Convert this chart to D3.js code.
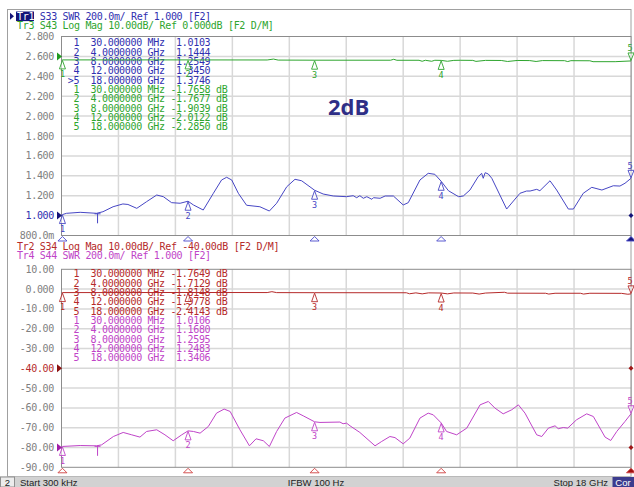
<!DOCTYPE html>
<html lang="en">
<head>
<meta charset="utf-8">
<title>VNA S33 / S43 / S34 / S44</title>
<script src="https://cdnjs.cloudflare.com/ajax/libs/d3/7.8.5/d3.min.js"></script>
<style>
  body { margin: 0; background: #fff; }
  svg text { font-family: "DejaVu Sans Mono", "Liberation Mono", monospace; font-size: 10px; letter-spacing: -0.32px; white-space: pre; }
</style>
</head>
<body>
<script>
/* sweep, GHz */
var fStart = 0.0003, fStop = 18;

/* marker frequencies and readouts */
var markerFreq = [0.03, 4, 8, 12, 18];
var markerFreqText = ["30.000000 MHz", "4.0000000 GHz", "8.0000000 GHz", "12.000000 GHz", "18.000000 GHz"];
var s33Marker = [1.0103, 1.1444, 1.2549, 1.3450, 1.3746];
var s43Marker = [-1.7658, -1.7677, -1.9039, -2.0122, -2.2850];
var s34Marker = [-1.7649, -1.7129, -1.8148, -1.9778, -2.4143];
var s44Marker = [1.0106, 1.1680, 1.2595, 1.2483, 1.3406];

/* y tick labels */
var swrTicks = ["2.800", "2.600", "2.400", "2.200", "2.000", "1.800", "1.600", "1.400", "1.200", "1.000", "800.0m"];
var dbTicks = ["10.00", "0.000", "-10.00", "-20.00", "-30.00", "-40.00", "-50.00", "-60.00", "-70.00", "-80.00", "-90.00"];

/* traces: [GHz, value] */
var s33 = [[0.0003,1.010],[0.03,1.0103],[0.16,1.023],[0.59,1.033],[1.11,1.023],[1.31,1.039],[1.63,1.089],[1.94,1.117],[2.10,1.112],[2.38,1.073],[2.69,1.140],[3.01,1.207],[3.22,1.190],[3.48,1.130],[3.75,1.124],[4.00,1.1444],[4.17,1.107],[4.48,1.056],[4.80,1.224],[5.06,1.358],[5.22,1.385],[5.38,1.358],[5.59,1.224],[5.85,1.104],[6.27,1.089],[6.57,1.046],[6.80,1.124],[7.12,1.290],[7.38,1.365],[7.59,1.350],[8.00,1.2549],[8.27,1.217],[8.59,1.197],[9.01,1.190],[9.22,1.200],[9.33,1.180],[9.43,1.200],[9.54,1.174],[9.65,1.190],[9.81,1.164],[9.86,1.180],[10.07,1.174],[10.23,1.197],[10.49,1.197],[10.80,1.107],[10.96,1.130],[11.33,1.358],[11.59,1.425],[11.80,1.415],[12.00,1.3450],[12.23,1.250],[12.55,1.190],[12.70,1.197],[12.91,1.257],[13.17,1.391],[13.28,1.425],[13.33,1.375],[13.39,1.431],[13.49,1.418],[13.60,1.375],[14.07,1.066],[14.49,1.224],[14.70,1.247],[14.81,1.247],[15.02,1.264],[15.12,1.250],[15.44,1.350],[15.65,1.257],[16.02,1.066],[16.18,1.066],[16.49,1.224],[16.76,1.284],[17.08,1.257],[17.44,1.300],[17.65,1.297],[17.81,1.325],[18.00,1.3746]];

var s43 = [[0.0003,-1.76],[0.03,-1.7658],[2.0,-1.76],[4.0,-1.7677],[6.5,-1.80],[6.7,-1.35],[6.85,-1.85],[8.0,-1.9039],[10.4,-1.92],[10.5,-1.45],[10.6,-1.95],[11.3,-1.95],[11.4,-2.45],[11.5,-1.95],[11.7,-2.45],[11.8,-1.95],[12.0,-2.0122],[12.2,-2.45],[12.4,-2.0],[12.6,-1.95],[13.0,-2.0],[13.1,-2.5],[13.4,-2.0],[13.9,-2.05],[14.1,-2.55],[14.4,-2.05],[14.8,-2.1],[15.0,-2.55],[15.2,-2.1],[15.9,-2.15],[16.0,-2.6],[16.1,-2.15],[16.7,-2.2],[16.8,-2.65],[17.5,-2.65],[18.0,-2.285]];

var s34 = [[0.0003,-1.76],[0.03,-1.7649],[4.0,-1.7129],[6.5,-1.75],[6.65,-1.30],[6.8,-1.78],[8.0,-1.8148],[10.9,-1.85],[11.0,-2.35],[11.2,-1.9],[11.4,-2.4],[11.6,-1.9],[12.0,-1.9778],[12.2,-2.4],[12.4,-1.95],[13.0,-2.0],[13.2,-2.5],[13.4,-2.0],[14.0,-1.6],[14.1,-2.05],[15.3,-2.1],[15.4,-2.5],[15.6,-2.1],[16.4,-2.1],[16.5,-2.5],[16.7,-2.1],[17.7,-2.15],[17.9,-2.6],[18.0,-2.4143]];

var s44 = [[0.0003,1.010],[0.03,1.0106],[0.59,1.020],[1.11,1.017],[1.27,1.027],[1.64,1.111],[1.95,1.152],[2.22,1.128],[2.48,1.105],[2.69,1.162],[3.01,1.179],[3.27,1.128],[3.53,1.068],[3.80,1.128],[4.00,1.1680],[4.17,1.162],[4.38,1.145],[4.64,1.212],[4.90,1.347],[5.14,1.388],[5.33,1.364],[5.64,1.179],[5.94,1.017],[6.15,1.088],[6.38,1.068],[6.57,1.010],[6.80,1.162],[7.06,1.297],[7.43,1.354],[7.64,1.320],[8.00,1.2595],[8.17,1.253],[8.80,1.257],[8.90,1.240],[9.01,1.246],[9.12,1.219],[9.43,1.152],[9.91,1.017],[10.12,1.061],[10.38,1.111],[10.54,1.100],[10.80,1.037],[11.01,1.095],[11.33,1.297],[11.59,1.347],[11.75,1.330],[12.00,1.2483],[12.17,1.162],[12.49,1.128],[12.81,1.196],[13.23,1.431],[13.49,1.465],[13.70,1.398],[13.96,1.340],[14.23,1.381],[14.44,1.431],[14.65,1.347],[15.02,1.128],[15.18,1.111],[15.39,1.196],[15.60,1.219],[15.70,1.190],[15.86,1.202],[16.00,1.196],[16.28,1.280],[16.60,1.340],[16.81,1.313],[17.18,1.105],[17.36,1.071],[17.55,1.162],[17.81,1.263],[18.00,1.3406]];

/* the small "T" reference flag */
var refFlagFreq = 1.14;

/* colours */
var blue = "#4646c4", blueText = "#3030b0", green = "#2ea52e", red = "#b52a2a", purple = "#bf44c8", navy = "#14147a";

var W = 634, H = 487;
var left = 61.5, right = 631;
var svg = d3.select("body").append("svg").attr("width", W).attr("height", H);

var x = d3.scaleLinear().domain([fStart, fStop]).range([left, right]);

/* outer frame */
svg.append("rect").attr("x", 7.5).attr("y", 9.5).attr("width", right - 7.5).attr("height", 467)
  .attr("fill", "none").attr("stroke", "#a0a0a0");

function drawPanel(p) {
  var g = svg.append("g");
  var ySwr = d3.scaleLinear().domain([0.8, 2.8]).range([p.bottom, p.top]);
  var yDb = d3.scaleLinear().domain(p.dbDomain).range([p.bottom, p.top]);
  var yTick = d3.scaleLinear().domain([0, 10]).range([p.top, p.bottom]);

  g.append("rect").attr("x", left).attr("y", p.top).attr("width", right - left).attr("height", p.bottom - p.top).attr("fill", "#fff");

  /* grid */
  var divs = d3.range(1, 10);
  g.selectAll(".vg").data(divs).enter().append("line")
    .attr("x1", function(d) { return x(fStart + d * (fStop - fStart) / 10); })
    .attr("x2", function(d) { return x(fStart + d * (fStop - fStart) / 10); })
    .attr("y1", p.top).attr("y2", p.bottom)
    .attr("stroke", "#d8d8d8").attr("stroke-width", 1.5);
  g.selectAll(".hg").data(divs).enter().append("line")
    .attr("x1", left).attr("x2", right)
    .attr("y1", function(d) { return yTick(d); }).attr("y2", function(d) { return yTick(d); })
    .attr("stroke", "#d8d8d8").attr("stroke-width", 1.5);
  g.append("rect").attr("x", left).attr("y", p.top).attr("width", right - left).attr("height", p.bottom - p.top)
    .attr("fill", "none").attr("stroke", "#8c8c8c");

  /* y labels */
  g.selectAll(".yl").data(p.ticks).enter().append("text")
    .attr("x", 54).attr("y", function(d, i) { return yTick(i); })
    .attr("text-anchor", "end").attr("dominant-baseline", "central")
    .attr("fill", function(d, i) { return i === p.refTick ? p.refTickColor : "#808080"; })
    .text(function(d) { return d; });

  /* header */
  p.header.forEach(function(h, i) {
    var t = g.append("text").attr("x", 17).attr("y", p.headerY + i * 8.7).attr("dominant-baseline", "central");
    if (h.box) {
      g.insert("rect", "text").attr("x", 16).attr("y", p.headerY - 4.8).attr("width", 18).attr("height", 9.6).attr("fill", navy);
      g.append("path").attr("d", "M10," + (p.headerY - 3.5) + "L14," + p.headerY + "L10," + (p.headerY + 3.5) + "Z").attr("fill", navy);
      t.append("tspan").attr("fill", "#fff").text(h.name);
    } else {
      t.append("tspan").attr("fill", h.color).text(h.name);
    }
    t.append("tspan").attr("fill", h.color).text(h.rest);
  });

  /* marker table */
  var rows = [];
  p.tables.forEach(function(tb) {
    tb.values.forEach(function(v, i) {
      var s = (tb.active === i ? ">" : " ") + (i + 1) + "  " + markerFreqText[i] + " " +
        (v < 0 ? "-" : " ") + Math.abs(v).toFixed(4) + (tb.db ? " dB" : "");
      rows.push({ s: s, c: tb.color });
    });
  });
  g.selectAll(".row").data(rows).enter().append("text")
    .attr("x", 67.8).attr("y", function(d, i) { return p.tableY + i * 9.33; })
    .attr("dominant-baseline", "central")
    .attr("fill", function(d) { return d.c; })
    .text(function(d) { return d.s; });

  /* traces */
  var clipId = "clip" + p.id;
  svg.append("clipPath").attr("id", clipId).append("rect")
    .attr("x", left).attr("y", p.top).attr("width", right - left + 1).attr("height", p.bottom - p.top);
  var traces = [
    { data: p.dbTrace, y: yDb, color: p.dbColor },
    { data: p.swrTrace, y: ySwr, color: p.swrColor }
  ];
  traces.forEach(function(tr) {
    var line = d3.line().x(function(d) { return x(d[0]); }).y(function(d) { return tr.y(d[1]); });
    g.append("path").datum(tr.data).attr("d", line).attr("fill", "none")
      .attr("stroke", tr.color).attr("stroke-width", 1).attr("clip-path", "url(#" + clipId + ")");
  });

  /* marker flags */
  function flags(vals, yS, color) {
    vals.forEach(function(v, i) {
      var mx = x(markerFreq[i]), my = yS(v);
      if (i < 4) {
        g.append("path").attr("d", "M" + mx + "," + (my + 0.5) + "L" + (mx - 3) + "," + (my + 9) + "L" + (mx + 3) + "," + (my + 9) + "Z")
          .attr("fill", "#fff").attr("fill-opacity", 0.6).attr("stroke", color).attr("stroke-width", 0.9);
        g.append("text").attr("x", mx).attr("y", my + 14.5).attr("text-anchor", "middle").attr("dominant-baseline", "central")
          .style("font-size", "8.5px").style("letter-spacing", "0px").attr("fill", color).text(i + 1);
      } else {
        g.append("path").attr("d", "M" + mx + "," + (my - 0.5) + "L" + (mx - 3) + "," + (my - 8) + "L" + (mx + 3) + "," + (my - 8) + "Z")
          .attr("fill", "#fff").attr("fill-opacity", 0.6).attr("stroke", color).attr("stroke-width", 0.9);
        g.append("text").attr("x", mx - 1).attr("y", my - 12.5).attr("text-anchor", "middle").attr("dominant-baseline", "central")
          .style("font-size", "8.5px").style("letter-spacing", "0px").attr("fill", color).text(i + 1);
      }
    });
  }
  flags(p.dbMarker, yDb, p.dbColor);
  flags(p.swrMarker, ySwr, p.swrColor);

  /* reference flag near 1 GHz on the SWR trace */
  var rx = x(refFlagFreq), ry = ySwr(d3.least(p.swrTrace, function(d) { return Math.abs(d[0] - refFlagFreq); })[1]);
  g.append("path").attr("d", "M" + (rx - 3) + "," + (ry + 0.5) + "L" + (rx + 3) + "," + (ry + 0.5) + "M" + rx + "," + ry + "L" + rx + "," + (ry + 10))
    .attr("fill", "none").attr("stroke", p.swrColor).attr("stroke-width", 1);

  /* reference level arrows on the left */
  [{ y: yDb(p.dbRef), c: p.dbArrow }, { y: ySwr(1.0), c: p.swrArrow }].forEach(function(a) {
    g.append("path").attr("d", "M57," + (a.y - 4) + "L62," + a.y + "L57," + (a.y + 4) + "Z").attr("fill", a.c);
  });
  p.rightDots.forEach(function(rd) {
    var yy = rd.swr ? ySwr(rd.v) : yDb(rd.v);
    g.append("path").attr("d", "M" + (right - 2.5) + "," + yy + "L" + right + "," + (yy - 2.5) + "L" + (right + 2.5) + "," + yy + "L" + right + "," + (yy + 2.5) + "Z")
      .attr("fill", rd.c);
  });

  /* marker position triangles under the grid */
  g.selectAll(".mt").data(markerFreq).enter().append("path")
    .attr("d", function(f) { var mx = x(f); return "M" + mx + "," + (p.bottom + 1) + "L" + (mx - 4.5) + "," + (p.bottom + 5.5) + "L" + (mx + 4.5) + "," + (p.bottom + 5.5) + "Z"; })
    .attr("fill", function(f, i) { return i === 4 ? p.triFill : "#fff"; })
    .attr("stroke", p.triColor).attr("stroke-width", 0.9);
}

drawPanel({
  id: 1, top: 36.5, bottom: 235.5, ticks: swrTicks, refTick: 9, refTickColor: blueText,
  dbDomain: [-90, 10], dbRef: 0,
  headerY: 16.3,
  header: [
    { name: "Tr1", rest: " S33 SWR 200.0m/ Ref 1.000 [F2]", color: blueText, box: true },
    { name: "Tr3", rest: " S43 Log Mag 10.00dB/ Ref 0.000dB [F2 D/M]", color: green }
  ],
  tableY: 42.7,
  tables: [
    { values: s33Marker, color: blueText, db: false, active: 4 },
    { values: s43Marker, color: green, db: true, active: -1 }
  ],
  dbTrace: s43, swrTrace: s33, dbColor: green, swrColor: blue,
  dbMarker: s43Marker, swrMarker: s33Marker,
  dbArrow: "#1f9a1f", swrArrow: navy,
  rightDots: [{ v: 1.0, swr: true, c: navy }],
  triColor: "#4a4acc", triFill: navy
});

drawPanel({
  id: 2, top: 269.3, bottom: 467.3, ticks: dbTicks, refTick: 5, refTickColor: red,
  dbDomain: [-90, 10], dbRef: -40,
  headerY: 246.3,
  header: [
    { name: "Tr2", rest: " S34 Log Mag 10.00dB/ Ref -40.00dB [F2 D/M]", color: red },
    { name: "Tr4", rest: " S44 SWR 200.0m/ Ref 1.000 [F2]", color: purple }
  ],
  tableY: 273.7,
  tables: [
    { values: s34Marker, color: red, db: true, active: -1 },
    { values: s44Marker, color: purple, db: false, active: -1 }
  ],
  dbTrace: s34, swrTrace: s44, dbColor: red, swrColor: purple,
  dbMarker: s34Marker, swrMarker: s44Marker,
  dbArrow: "#8b1010", swrArrow: "#a01ca8",
  rightDots: [{ v: -40, swr: false, c: "#a01818" }, { v: 1.0, swr: true, c: "#a01818" }],
  triColor: "#d04040", triFill: "#a01010"
});

/* annotation */
svg.append("text").attr("x", 328).attr("y", 115)
  .style("font-family", "'Open Sans', 'DejaVu Sans', sans-serif").style("font-size", "22px").style("font-weight", "bold")
  .style("letter-spacing", "0px")
  .attr("fill", "#2e2e86").text("2dB");

/* status bar */
var sb = svg.append("g");
sb.append("rect").attr("x", 0).attr("y", 476.5).attr("width", W).attr("height", 11).attr("fill", "#d2d2d2");
sb.append("rect").attr("x", 0.5).attr("y", 477).attr("width", 14).attr("height", 10).attr("fill", "#ececec").attr("stroke", "#909090");
sb.append("rect").attr("x", 612.5).attr("y", 477).attr("width", 21.5).attr("height", 10).attr("fill", "#3c3c8e");
var sbText = [
  { t: "2", x: 7.5, a: "middle", c: "#222" },
  { t: "Start 300 kHz", x: 20, a: "start", c: "#222" },
  { t: "IFBW 100 Hz", x: 316, a: "middle", c: "#222" },
  { t: "Stop 18 GHz", x: 608, a: "end", c: "#222" },
  { t: "Cor", x: 623, a: "middle", c: "#fff" }
];
sb.selectAll("text").data(sbText).enter().append("text")
  .attr("x", function(d) { return d.x; }).attr("y", 485.5)
  .attr("text-anchor", function(d) { return d.a; })
  .style("font-family", "'Liberation Sans', Arial, sans-serif").style("font-size", "9.5px").style("letter-spacing", "0px")
  .attr("fill", function(d) { return d.c; })
  .text(function(d) { return d.t; });
</script>
</body>
</html>
